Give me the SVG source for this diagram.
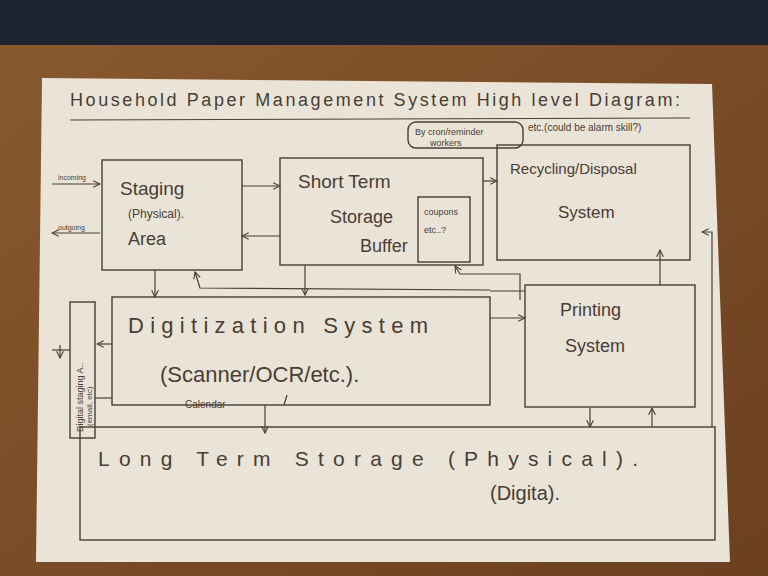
<svg xmlns="http://www.w3.org/2000/svg" width="768" height="576" viewBox="0 0 768 576">
<defs>
<linearGradient id="wood" x1="0" y1="0" x2="1" y2="1"><stop offset="0" stop-color="#8a5a2e"/><stop offset="1" stop-color="#6b4020"/></linearGradient>
<marker id="ah" viewBox="0 0 10 10" refX="9" refY="5" markerWidth="7" markerHeight="7" orient="auto-start-reverse"><path d="M1,1 L9,5 L1,9" fill="none" stroke="#4a3d33" stroke-width="1.3"/></marker>
<style>
.b{fill:none;stroke:#4a3d33;stroke-width:1.4}
.t{font-family:"Liberation Sans",sans-serif;fill:#4a3d33}
.c path,.c line,.c polyline{fill:none;stroke:#4a3d33;stroke-width:1.2}
</style>
</defs>
<rect width="768" height="576" fill="url(#wood)"/>
<rect width="768" height="45" fill="#1e2430"/>
<path d="M42,78 L712,84 L730,562 L36,562 Z" fill="#e9e3d8"/>
<g id="title">
<text class="t" x="70" y="106" font-size="18" textLength="610" lengthAdjust="spacing">Household Paper Management System High level Diagram:</text>
<line x1="70" y1="120" x2="690" y2="118" stroke="#4a3d33" stroke-width="1"/>
<rect x="408" y="122" width="115" height="26" rx="8" class="b"/>
<text class="t" x="415" y="135" font-size="9">By cron/reminder</text>
<text class="t" x="430" y="146" font-size="9">workers</text>
<text class="t" x="528" y="131" font-size="10">etc.(could be alarm skill?)</text>
</g>
<g id="staging"><rect x="102" y="160" width="140" height="110" class="b"/>
<text class="t" x="120" y="195" font-size="19">Staging</text><text class="t" x="128" y="218" font-size="12">(Physical).</text><text class="t" x="128" y="245" font-size="18">Area</text></g>
<g id="shortterm"><rect x="280" y="158" width="203" height="107" class="b"/>
<text class="t" x="298" y="188" font-size="19">Short Term</text><text class="t" x="330" y="223" font-size="18">Storage</text><text class="t" x="360" y="252" font-size="18">Buffer</text>
<rect x="418" y="197" width="52" height="65" class="b"/><text class="t" x="424" y="215" font-size="9">coupons</text><text class="t" x="424" y="233" font-size="9">etc..?</text></g>
<g id="recycling"><rect x="497" y="145" width="193" height="115" class="b"/>
<text class="t" x="510" y="174" font-size="15">Recycling/Disposal</text><text class="t" x="558" y="218" font-size="17">System</text></g>
<g id="digitization"><rect x="112" y="297" width="378" height="108" class="b"/>
<text class="t" x="128" y="333" font-size="22" textLength="300" lengthAdjust="spacing">Digitization System</text><text class="t" x="160" y="382" font-size="22">(Scanner/OCR/etc.).</text><text class="t" x="185" y="408" font-size="10">Calendar</text></g>
<g id="printing"><rect x="525" y="285" width="170" height="122" class="b"/>
<text class="t" x="560" y="316" font-size="18">Printing</text><text class="t" x="565" y="352" font-size="18">System</text></g>
<g id="digitalstaging"><rect x="70" y="302" width="25" height="136" class="b"/>
<text class="t" font-size="9" transform="translate(83,432) rotate(-90)">Digital staging A..</text>
<text class="t" font-size="8" transform="translate(92,426) rotate(-90)">(email, etc)</text></g>
<g id="longterm"><rect x="80" y="427" width="635" height="113" class="b"/>
<text class="t" x="98" y="466" font-size="21" textLength="540" lengthAdjust="spacing">Long Term Storage (Physical).</text><text class="t" x="490" y="500" font-size="20">(Digita).</text></g>
<g class="c" id="connectors">
<line x1="52" y1="184" x2="100" y2="184" marker-end="url(#ah)"/>
<text class="t" x="58" y="180" font-size="7">incoming</text>
<line x1="100" y1="233" x2="52" y2="233" marker-end="url(#ah)"/>
<text class="t" x="58" y="230" font-size="7">outgoing</text>
<line x1="242" y1="186" x2="280" y2="186" marker-end="url(#ah)"/>
<line x1="280" y1="236" x2="242" y2="236" marker-end="url(#ah)"/>
<line x1="483" y1="181" x2="497" y2="181" marker-end="url(#ah)"/>
<line x1="155" y1="270" x2="155" y2="297" marker-end="url(#ah)"/>
<line x1="305" y1="265" x2="305" y2="295" marker-end="url(#ah)"/>
<polyline points="490,290 200,288 195,272" marker-end="url(#ah)"/>
<line x1="490" y1="291" x2="525" y2="291"/>
<polyline points="520,300 520,274 460,274 455,266" marker-end="url(#ah)"/>
<line x1="660" y1="285" x2="660" y2="250" marker-end="url(#ah)"/>
<line x1="490" y1="318" x2="525" y2="318" marker-end="url(#ah)"/>
<line x1="112" y1="344" x2="97" y2="344" marker-end="url(#ah)"/>
<line x1="70" y1="350" x2="52" y2="350"/>
<line x1="60" y1="345" x2="60" y2="358" marker-end="url(#ah)"/>
<line x1="95" y1="398" x2="112" y2="398"/>
<line x1="265" y1="405" x2="265" y2="433" marker-end="url(#ah)"/>
<line x1="590" y1="408" x2="590" y2="427" marker-end="url(#ah)"/>
<line x1="652" y1="427" x2="652" y2="408" marker-end="url(#ah)"/>
<polyline points="712,427 712,232 702,232" marker-end="url(#ah)"/>
<line x1="287" y1="395" x2="284" y2="405"/>
</g>
</svg>
